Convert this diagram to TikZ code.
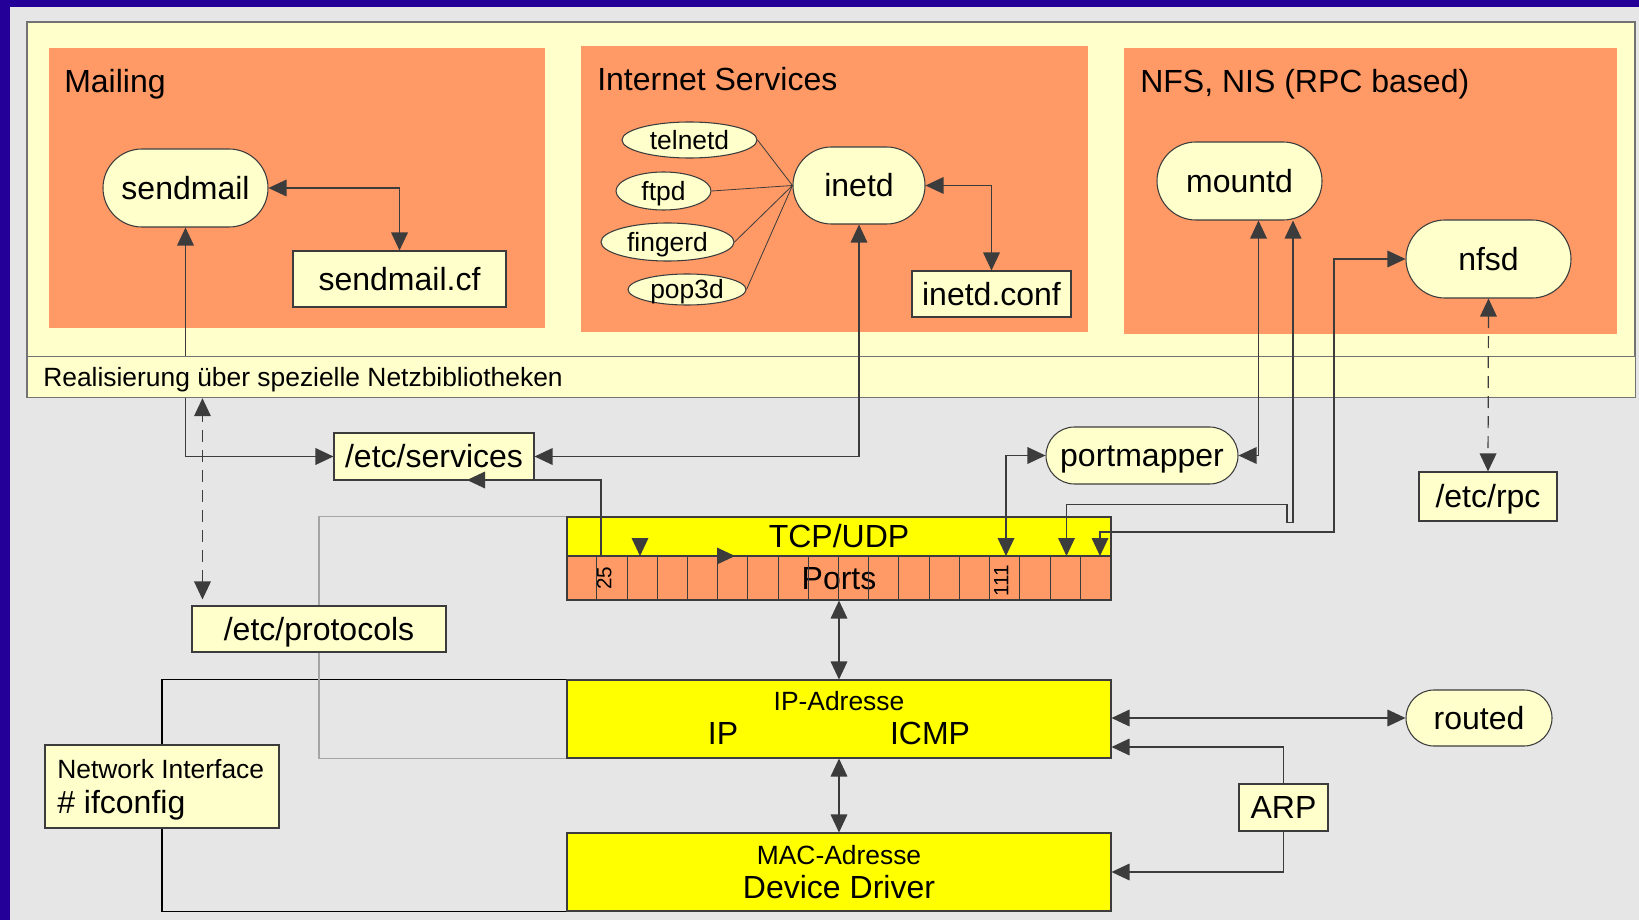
\documentclass[tikz,border=0pt]{standalone}
\usepackage{fontspec}
\setmainfont{Liberation Sans}
\usetikzlibrary{arrows.meta,shapes.geometric,shapes.misc,calc}

\definecolor{bgray}{RGB}{230,230,230}
\definecolor{frameblue}{RGB}{36,0,153}
\definecolor{paleyel}{RGB}{255,255,204}
\definecolor{grporange}{RGB}{255,153,102}
\definecolor{layeryel}{RGB}{255,255,0}
\definecolor{linegray}{RGB}{60,60,60}
\definecolor{lightline}{RGB}{165,165,165}

\newcommand{\fontL}{\fontsize{24}{28}\selectfont}
\newcommand{\fontM}{\fontsize{19.8}{23}\selectfont}
\newcommand{\fontS}{\fontsize{15.5}{18}\selectfont}

\tikzset{
  >={Triangle[length=13.5pt,width=12.5pt]},
  boxsize/.style 2 args={minimum width=#1*0.75pt, minimum height=#2*0.75pt},
  conn/.style={draw=linegray, line width=0.9pt},
  twoway/.style={conn, <->},
  oneway/.style={conn, ->},
  dashline/.style={dash pattern=on 9pt off 6pt},
  daemon/.style={rounded rectangle, draw=linegray, line width=0.8pt, fill=paleyel, inner sep=0pt, font=\fontL, text height=17.2pt, text depth=0pt},
  file/.style={rectangle, draw=linegray, line width=0.8pt, fill=paleyel, inner sep=0pt, font=\fontL, text height=17.2pt, text depth=0pt},
  svc/.style={ellipse, draw=linegray, line width=0.8pt, fill=paleyel, inner sep=0pt, font=\fontM, text height=14.2pt, text depth=0pt},
  layer/.style={rectangle, draw=linegray, line width=0.8pt, fill=layeryel, inner sep=0pt, font=\fontL, text height=17.2pt, text depth=0pt},
  portrow/.style={layer, fill=grporange},
  title/.style={anchor=base west, inner sep=0pt, font=\fontL},
  lblL/.style={inner sep=0pt, font=\fontL, text height=17.2pt, text depth=0pt},
  lblM/.style={inner sep=0pt, font=\fontM, text height=14.2pt, text depth=0pt},
  portnum/.style={inner sep=0pt, font=\fontS, rotate=90, text height=11.1pt, text depth=0pt}
}

\begin{document}
\begin{tikzpicture}[x=0.75pt,y=0.75pt,yscale=-1,xscale=1]
\useasboundingbox (0,0) rectangle (1639,920);

% Background and frame
\fill[bgray] (0,0) rectangle (1639,920);
\fill[frameblue] (0,0) rectangle (10,920);
\fill[frameblue] (0,0) rectangle (1639,7);

%Shape: Rectangle [application area]
\draw[draw=gray!90!black, fill=paleyel, line width=0.9pt] (27,22) rectangle (1635,397);

%Shape: Rectangle [groups]
\fill[grporange] (49,48) rectangle (545,328);
\fill[grporange] (581,46) rectangle (1088,332);
\fill[grporange] (1124,48) rectangle (1617,334);

% Text Node
\node[title] (tmail) at (64,93) {Mailing};
% Text Node
\node[title] (tinet) at (597,91) {Internet Services};
% Text Node
\node[title] (tnfs) at (1140,93) {NFS, NIS (RPC based)};

% Mailing
\node[daemon, boxsize={165}{78}] (sendmail) at (185.5,188) {sendmail};
\node[file, boxsize={213}{56}] (sendmailcf) at (399.5,279) {sendmail.cf};

% Internet Services
\node[daemon, boxsize={132}{77}] (inetd) at (859,185.5) {inetd};
\node[file, boxsize={159}{46}] (inetdconf) at (991.5,294) {inetd.conf};
\node[svc, boxsize={135}{36}] (telnetd) at (689.5,140) {telnetd};
\node[svc, boxsize={95}{38}] (ftpd) at (663.5,191) {ftpd};
\node[svc, boxsize={133}{38}] (fingerd) at (667.5,242) {fingerd};
\node[svc, boxsize={118}{31}] (popd) at (687,289.5) {pop3d};

% NFS, NIS
\node[daemon, boxsize={165}{78}] (mountd) at (1239.5,181) {mountd};
\node[daemon, boxsize={165}{78}] (nfsd) at (1488.5,259) {nfsd};

% Files and helpers
\node[file, boxsize={200}{47}] (services) at (434,456.5) {/etc/services};
\node[file, boxsize={138}{49}] (rpc) at (1488,496.5) {/etc/rpc};
\node[daemon, boxsize={192}{57}] (portmapper) at (1142,455.5) {portmapper};
\node[daemon, boxsize={146}{56}] (routed) at (1479,718) {routed};
\node[file, boxsize={89}{47}] (arp) at (1283.5,807.5) {ARP};

% Layers
\node[layer, boxsize={544}{39}] (tcp) at (839,536.5) {TCP/UDP};
\node[portrow, boxsize={544}{44}] (ports) at (839,578) {Ports};
\foreach \i in {1,...,17}
  \draw[linegray, line width=0.6pt] ($(ports.north west)+(\i*30.22,0)$) -- ($(ports.south west)+(\i*30.22,0)$);
\node[portnum] (n25) at (604,578.5) {25};
\node[portnum] (n111) at (1001,581) {111};

\node[layer, boxsize={544}{78}] (ip) at (839,719) {};
\node[lblM] (ipaddr) at (839,701) {IP-Adresse};
\node[lblL] (iplbl) at (723,733.5) {IP};
\node[lblL] (icmp) at (930,733.5) {ICMP};

\node[layer, boxsize={544}{78}] (mac) at (839,872) {};
\node[lblM] (macaddr) at (839,855.5) {MAC-Adresse};
\node[lblL] (driver) at (839,887.5) {Device Driver};

% Network interface
\draw[black, line width=0.9pt] (162,745) |- (ip.north west);
\draw[black, line width=0.9pt] (162,828) |- (mac.south west);
\node[file, boxsize={234}{83}] (ni) at (162,786.5) {};
\node[anchor=base west, inner sep=0pt, font=\fontM] (nilbl) at (57,778.5) {Network Interface};
\node[anchor=base west, inner sep=0pt, font=\fontL] (nicmd) at (57,813) {\# ifconfig};

% /etc/protocols, grey line behind it
\node[file, boxsize={254}{46}] (protocols) at (319,629) {/etc/protocols};
\draw[lightline, line width=0.9pt] (tcp.north west) -| (protocols.north);
\draw[lightline, line width=0.9pt] (protocols.south) |- (ip.south west);

% sendmail connectors
\draw[twoway] (sendmail.east) -| (sendmailcf.north);
\draw[twoway] (sendmail.south) |- (services.west);

% library bar (covers the sendmail line)
\node[rectangle, draw=gray!90!black, fill=paleyel, line width=0.9pt, anchor=north west, boxsize={1608}{41}] (bar) at (27,356) {};
\node[anchor=base west, inner sep=0pt, font=\fontM] (barlbl) at (43,386) {Realisierung über spezielle Netzbibliotheken};

% inetd connectors
\foreach \s in {telnetd,ftpd,fingerd,popd}
  \draw[linegray, line width=0.6pt] (\s.east) -- (inetd.west);
\draw[twoway] (inetd.east) -| (inetdconf.north);
\draw[twoway] (inetd.south) |- (services.east);

% port 25
\coordinate (svc25) at (467,480);
\coordinate (k25) at (601,556);
\coordinate (p25) at (735,556);
\coordinate (p25b) at (640,556);
\draw[twoway] (svc25) -| (k25) -- (p25);
\draw[oneway] ($(p25b)+(0,-18)$) -- (p25b);

% /etc/protocols
\coordinate (prottop) at ($(protocols.north west)+(11,-6)$);
\draw[twoway, dashline] (prottop) -- (prottop |- bar.south);

% RPC
\coordinate (p111) at (1006,556);
\coordinate (p17) at (1066.5,556);
\coordinate (p18) at (1100,556);
\coordinate (mnt1) at ($(mountd.south)+(19,0)$);
\coordinate (mnt2) at ($(mountd.south)+(53.5,0)$);
\coordinate (nfsbend) at (1334,532);
\draw[twoway] (portmapper.west) -| (p111);
\draw[twoway] (mnt1) |- (portmapper.east);
\draw[twoway] (mnt2) -- ++(0,302) -- ++(-6,0) -- ++(0,-18) -| (p17);
\draw[twoway] (nfsd.west) -| (nfsbend) -| (p18);
\draw[twoway, dashline] (nfsd.south) -- (rpc.north);

% layers
\coordinate (iparp) at ($(ip.east)+(0,28)$);
\draw[twoway] (ports.south) -- (ip.north);
\draw[twoway] (ip.south) -- (mac.north);
\draw[twoway] (routed.west -| ip.east) -- (routed.west);
\draw[oneway] (arp.north) |- (iparp);
\draw[oneway] (arp.south) |- (mac.east);

\end{tikzpicture}
\end{document}
